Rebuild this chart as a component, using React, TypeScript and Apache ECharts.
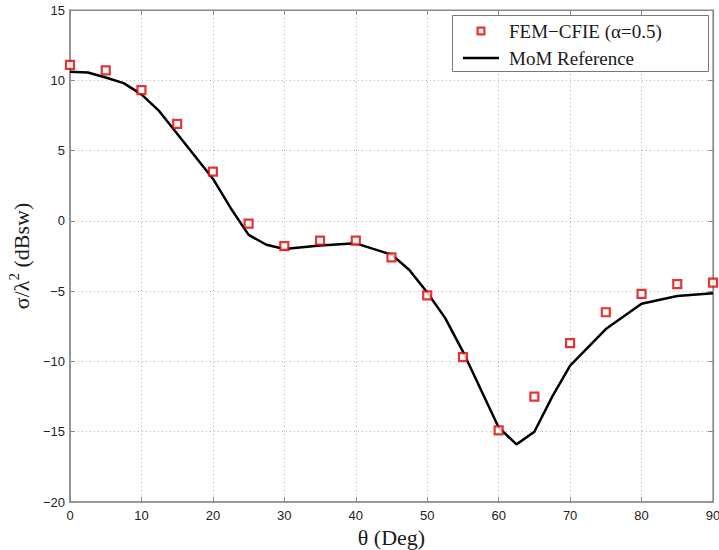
import React, { useEffect, useRef } from "react";
import * as echarts from "echarts";

const femTheta = [0, 5, 10, 15, 20, 25, 30, 35, 40, 45, 50, 55, 60, 65, 70, 75, 80, 85, 90];
const femValues = [11.1, 10.7, 9.3, 6.9, 3.5, -0.2, -1.8, -1.4, -1.4, -2.6, -5.3, -9.7, -14.9, -12.5, -8.7, -6.5, -5.2, -4.5, -4.4];

const momTheta = [0, 2.5, 5, 7.5, 10, 12.5, 15, 17.5, 20, 22.5, 25, 27.5, 30, 35, 40, 45, 47.5, 50, 52.5, 55, 57.5, 60, 62.5, 65, 67.5, 70, 75, 80, 85, 90];
const momValues = [10.6, 10.55, 10.2, 9.8, 9.0, 7.8, 6.2, 4.6, 3.0, 0.9, -1.0, -1.7, -2.0, -1.75, -1.6, -2.4, -3.5, -5.1, -6.9, -9.3, -12.0, -14.7, -15.9, -15.0, -12.5, -10.3, -7.7, -5.9, -5.35, -5.15];

const femName = "FEM\u2212CFIE (\u03b1=0.5)";
const momName = "MoM Reference";

export default function App() {
  const ref = useRef<HTMLDivElement>(null);
  useEffect(() => {
    if (!ref.current) return;
    const chart = echarts.init(ref.current, null, { renderer: "svg" });
    const axisGray = "#8a8a8a";
    const tickFont = { fontFamily: "Liberation Sans", fontSize: 13, color: "#222" };
    const serif = "Liberation Serif";
    chart.setOption({
      animation: false,
      backgroundColor: "#fff",
      grid: {
        left: 70,
        top: 10,
        right: 6,
        bottom: 48,
        outerBoundsMode: "none",
        containLabel: false,
        show: true,
        borderColor: axisGray,
        borderWidth: 1.2,
        backgroundColor: "transparent",
      },
      graphic: [
        {
          type: "rect",
          left: 452,
          top: 15,
          z: 1,
          shape: { width: 256, height: 56 },
          style: { fill: "#fff", stroke: "#777", lineWidth: 1 },
        },
      ],
      legend: {
        orient: "vertical",
        left: 452,
        top: 15,
        z: 5,
        backgroundColor: "transparent",
        borderWidth: 0,
        padding: [6, 10, 3, 11],
        itemWidth: 36,
        itemHeight: 9,
        itemGap: 7,
        textStyle: { fontFamily: serif, fontSize: 19, color: "#1a1a1a", lineHeight: 20, padding: [0, 0, 0, 5] },
        data: [
          {
            name: femName,
            icon: "path://M0,0H10V10H0Z M2.5,2.5V7.5H7.5V2.5Z",
            itemStyle: { color: "#e00000", borderWidth: 0 },
          },
          {
            name: momName,
            icon: "path://M0,0H36V2.6H0Z",
            itemStyle: { color: "#000", borderWidth: 0 },
          },
        ],
      },
      xAxis: [
        {
          type: "value",
          min: 0,
          max: 90,
          interval: 10,
          name: "\u03b8 (Deg)",
          nameLocation: "middle",
          nameGap: 24,
          nameTextStyle: { fontFamily: serif, fontSize: 22, color: "#1a1a1a" },
          axisLine: { show: true, onZero: false, lineStyle: { color: axisGray, width: 1.5 } },
          axisTick: { show: true, inside: true, length: 5, lineStyle: { color: axisGray } },
          axisLabel: { ...tickFont, margin: 7 },
          splitLine: { show: true, lineStyle: { color: "#b8b8b8", type: [1, 3], width: 1 } },
        },
        {
          type: "value",
          position: "top",
          min: 0,
          max: 90,
          interval: 10,
          axisLine: { show: true, onZero: false, lineStyle: { color: axisGray, width: 1.2 } },
          axisTick: { show: true, inside: true, length: 5, lineStyle: { color: axisGray } },
          axisLabel: { show: false },
          splitLine: { show: false },
        },
      ],
      yAxis: [
        {
          type: "value",
          min: -20,
          max: 15,
          interval: 5,
          name: "{a|\u03c3/\u03bb}{s|2}{a| (dBsw)}",
          nameLocation: "middle",
          nameGap: 28,
          nameTextStyle: {
            fontFamily: serif,
            fontSize: 22,
            color: "#1a1a1a",
            rich: {
              a: { fontFamily: serif, fontSize: 22, color: "#1a1a1a", lineHeight: 26, verticalAlign: "bottom" },
              s: { fontFamily: serif, fontSize: 15, color: "#1a1a1a", lineHeight: 26, verticalAlign: "top" },
            },
          },
          axisLine: { show: true, onZero: false, lineStyle: { color: axisGray, width: 1.5 } },
          axisTick: { show: true, inside: true, length: 5, lineStyle: { color: axisGray } },
          axisLabel: {
            ...tickFont,
            margin: 5,
            formatter: (v: number) => (v < 0 ? "\u2212" + Math.abs(v) : String(v)),
          },
          splitLine: { show: true, lineStyle: { color: "#b8b8b8", type: [1, 3], width: 1 } },
        },
        {
          type: "value",
          position: "right",
          min: -20,
          max: 15,
          interval: 5,
          axisLine: { show: true, onZero: false, lineStyle: { color: axisGray, width: 1.2 } },
          axisTick: { show: true, inside: true, length: 5, lineStyle: { color: axisGray } },
          axisLabel: { show: false },
          splitLine: { show: false },
        },
      ],
      series: [
        {
          name: momName,
          type: "line",
          data: momTheta.map((t, i) => [t, momValues[i]]),
          showSymbol: false,
          symbol: "none",
          lineStyle: { color: "#000", width: 2.5 },
          itemStyle: { color: "#000" },
          z: 2,
        },
        {
          name: femName,
          type: "scatter",
          data: femTheta.map((t, i) => [t, femValues[i]]),
          symbol: "rect",
          symbolSize: 8,
          itemStyle: { color: "#fff", borderColor: "#e00000", borderWidth: 2.2 },
          z: 3,
        },
      ],
    });
    return () => chart.dispose();
  }, []);
  return <div ref={ref} style={{ width: 719, height: 550, position: "absolute", left: 0, top: 0 }} />;
}
